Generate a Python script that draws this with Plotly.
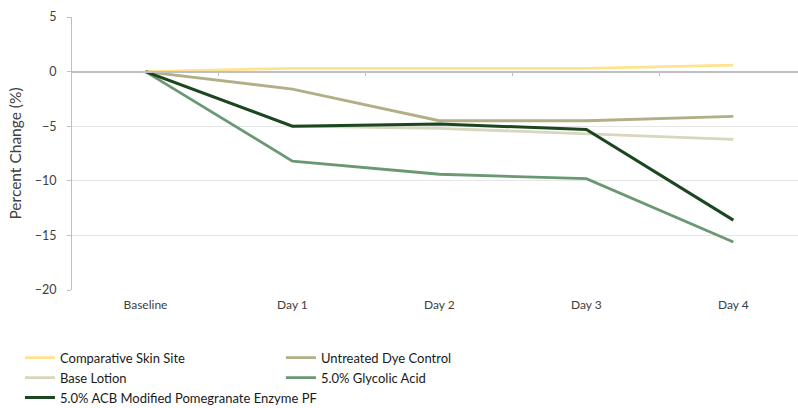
import plotly.graph_objects as go

categories = ["Baseline", "Day 1", "Day 2", "Day 3", "Day 4"]
comparative = [0, 0.3, 0.3, 0.3, 0.6]
untreated = [0, -1.6, -4.5, -4.5, -4.1]
base_lotion = [0, -5.0, -5.2, -5.7, -6.2]
glycolic = [0, -8.2, -9.4, -9.8, -15.6]
acb = [0, -5.0, -4.8, -5.3, -13.6]

series = [
    ("Comparative Skin Site", comparative, "#FFE28F", 2.8),
    ("Untreated Dye Control", untreated, "#B1AF85", 2.8),
    ("Base Lotion", base_lotion, "#D8D6BC", 2.8),
    ("5.0% Glycolic Acid", glycolic, "#6A9873", 2.8),
    ("5.0% ACB Modified Pomegranate Enzyme PF", acb, "#1B4620", 3),
]

idx = list(range(len(categories)))
fig = go.Figure()
for name, vals, color, w in series:
    fig.add_trace(go.Scatter(x=idx, y=vals, name=name, mode="lines",
                             line=dict(color=color, width=w)))
# invisible trace for category label axis
fig.add_trace(go.Scatter(x=idx, y=[None]*len(idx), xaxis="x2", showlegend=False,
                         hoverinfo="skip", mode="lines"))

font = "Lato, Calibri, sans-serif"
xr = [-0.5, 4.44]
fig.update_layout(
    width=798, height=408,
    margin=dict(l=72, r=0, t=17, b=118),
    paper_bgcolor="white", plot_bgcolor="white",
    font=dict(family=font, color="#404040", size=12),
    xaxis=dict(range=xr, tickvals=[0.5, 1.5, 2.5, 3.5], showticklabels=False,
               ticks="outside", ticklen=4, tickcolor="#BFBFBF",
               showline=True, linecolor="#BFBFBF", linewidth=1.5,
               anchor="free", position=0.8, showgrid=False, zeroline=False),
    xaxis2=dict(range=xr, overlaying="x", side="bottom", anchor="y",
                tickvals=idx, ticktext=categories, showline=False, showgrid=False,
                zeroline=False, ticks="", ticklabelstandoff=6,
                tickfont=dict(size=12, color="#404040")),
    yaxis=dict(range=[-20, 5], tickvals=[5, 0, -5, -10, -15, -20], showgrid=True,
               gridcolor="#E6E6E6", gridwidth=1, zeroline=False,
               showline=True, linecolor="#BFBFBF", linewidth=1,
               ticks="outside", ticklen=4, tickcolor="#BFBFBF",
               ticklabelstandoff=8, tickfont=dict(size=12.5),
               title=dict(text="Percent Change (%)", standoff=9,
                          font=dict(size=15.5, color="#404040"))),
    legend=dict(orientation="h", xref="container", yref="container",
                x=0.025, y=0.16, xanchor="left", yanchor="top",
                entrywidth=216, entrywidthmode="pixels",
                font=dict(size=13, color="#1a1a1a", family=font),
                itemwidth=30, tracegroupgap=0, traceorder="normal"),
)
fig.write_html("out.html", config={"displayModeBar": False},
               post_script="document.body.style.margin='0';")
